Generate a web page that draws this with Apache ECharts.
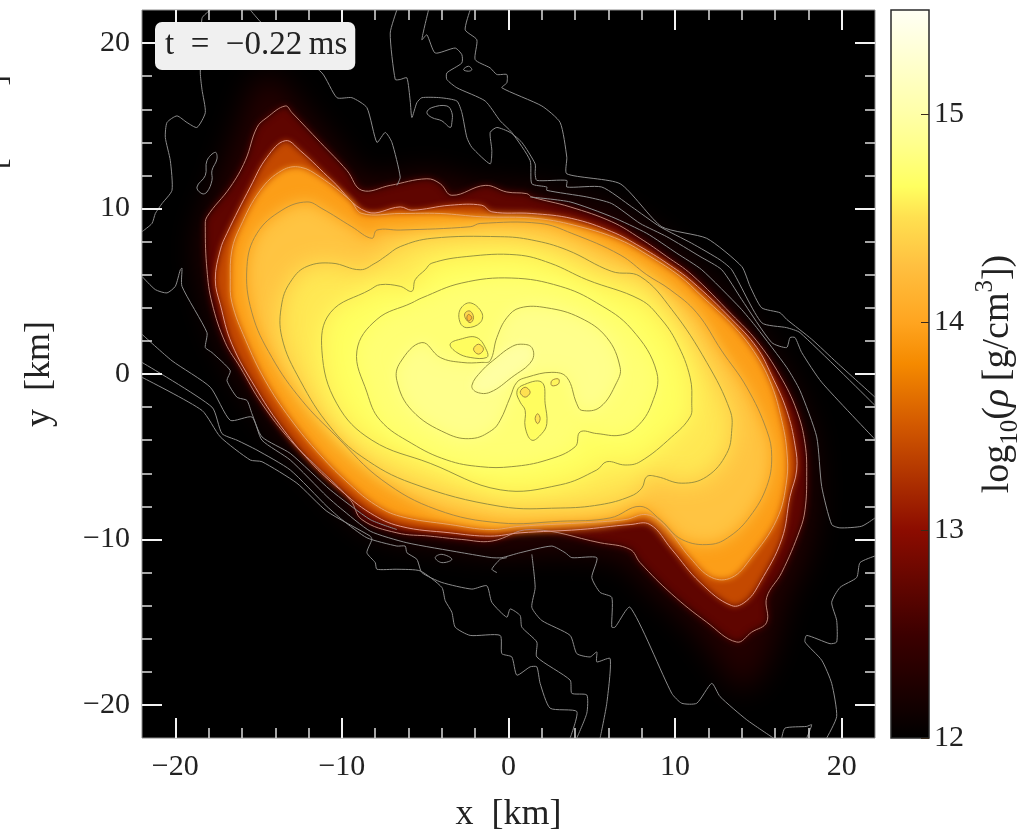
<!DOCTYPE html>
<html><head><meta charset="utf-8">
<style>html,body{margin:0;padding:0;background:#fff}#c{width:1017px;height:834px}</style>
<script src="https://cdn.jsdelivr.net/npm/echarts@6/dist/echarts.min.js"></script>
</head><body><div id="c"></div>
<script>
const xMajor=[-20,-10,0,10,20];
const yMajor=[-20,-10,0,10,20];
const minorTicks=[-18,-16,-14,-12,-8,-6,-4,-2,2,4,6,8,12,14,16,18];
const barTicks=[12,13,14,15];
const cmapLevels=[12,12.5,13,13.5,13.8,14,14.27,14.5,14.65,14.85,15,15.5];
const cmapColors=['#000000','#3c0000','#8c0c00','#d25800','#f58a00','#ffa520','#ffc040','#ffe050','#ffff60','#ffff8c','#ffffa8','#fffff5'];

const glow=[[-18.7,8.1],[-17.2,12.3],[-16,15.6],[-15.1,17.8],[-14,17.9],[-12.5,16.2],[-10.4,13.8],[-8.6,11.8],[-4.7,12.2],[-2.3,11.5],[1.3,11.2],[3.7,10.7],[6.7,9.8],[10.3,7.2],[13.9,3.6],[16.6,-0.1],[18.2,-4],[18.4,-8.2],[17.8,-11.2],[16.6,-13.7],[16,-16.1],[15.1,-18.2],[13.9,-19.1],[12.7,-17.6],[10.9,-15.2],[8.5,-13],[6.7,-11.2],[3.1,-10.8],[-0.5,-10.9],[-4.7,-10.3],[-8.3,-9.4],[-11.3,-6.4],[-13.7,-3.7],[-16.1,-0.4],[-17.6,2.7],[-18.4,5.7]];
const contourA=[[-18.2,8.9],[-18.1,9.5],[-16.7,11.3],[-15.8,12.9],[-15.1,14.9],[-14.5,15.5],[-13.4,16.2],[-13,15.8],[-11.3,14],[-9.7,12.3],[-8.8,11.1],[-7.1,11.4],[-4.9,11.8],[-4.1,11.5],[-3.4,10.8],[-1.4,11.4],[-0.1,11],[1.1,10.9],[1.4,10.7],[3.7,10.1],[6.2,9.2],[7.9,8.2],[9.5,7.1],[11,6],[13.4,3.6],[14.9,2],[16.3,-0.1],[17.3,-2.2],[17.8,-4.2],[17.9,-6.2],[17.8,-8.2],[17.5,-9.4],[16.4,-12],[15.5,-13.5],[15.5,-15],[14.6,-15.6],[13.7,-16.2],[11.9,-15],[9.8,-13.3],[7.9,-11.4],[7.3,-10.6],[5.5,-10.2],[1.3,-9.4],[-1,-10.1],[-2.8,-10],[-4.7,-9.8],[-6.7,-9.6],[-8.8,-8.8],[-9.5,-7.6],[-11.5,-5.6],[-13.1,-4],[-14.8,-1.8],[-16.1,0.4],[-17,1.9],[-17.8,4.3],[-18.1,6.3]];
const contourB=[[-17.6,5.7],[-17.3,7.5],[-16.9,8.5],[-15.5,11.3],[-14.5,13.1],[-13.4,14.1],[-12.5,13.5],[-10.6,11.7],[-8.5,9.8],[-6.5,10.1],[-5.8,9.9],[-3.5,10.2],[-1.6,10.2],[-1,9.8],[1.4,9.7],[3.8,9.4],[6.2,8.6],[7.9,7.7],[9.5,6.7],[11,5.6],[13.4,3.3],[14.9,1.6],[15.8,-0.1],[16.7,-2.2],[17.2,-4.3],[17.3,-5.8],[16.9,-7.4],[16.4,-10],[15.1,-12.6],[14.3,-13.7],[13.4,-14],[11.5,-12.6],[9.8,-10.6],[8.5,-9.1],[7.3,-9.1],[4.3,-9.4],[0.7,-9.6],[-1.1,-9.8],[-3.5,-9.6],[-6.5,-9.2],[-8.3,-8.4],[-10.1,-7],[-11.9,-5.3],[-13.7,-3.1],[-15.2,-0.8],[-16.6,1.8],[-17.3,4.2]];
const contourC=[[-16.7,5.7],[-16.6,7.5],[-16.1,8.9],[-14.9,11.1],[-13.6,12.3],[-12.5,12.5],[-11.3,11.9],[-9.5,10.5],[-8.8,9.7],[-6.5,9.7],[-4.1,9.7],[-1.6,9.5],[1.7,9.4],[4.3,8.9],[6.7,8.1],[8.5,7.1],[10.3,5.9],[11.5,4.8],[13.6,2.8],[14.9,1.1],[15.8,-0.7],[16.4,-2.8],[16.7,-4.6],[16.7,-6.4],[16.1,-8.8],[14.5,-11.2],[13.4,-12.3],[12.2,-12.3],[10.9,-11.1],[9.4,-9.2],[8.3,-8.5],[7,-8.8],[4.3,-9],[0.7,-9.2],[-1.1,-9.4],[-3.5,-9.1],[-6.5,-8.6],[-8,-7.9],[-9.5,-6.7],[-11.3,-4.9],[-13.1,-2.7],[-14.6,-0.4],[-15.8,2.1],[-16.6,4.3]];
const contourD=[[-15.7,6.5],[-15.1,8.5],[-13.6,9.9],[-12.1,10.4],[-11.2,10],[-9.4,8.9],[-8.2,8.2],[-7.9,8.7],[-6.5,8.7],[-2.3,8.9],[-1.7,9.1],[1.9,9.1],[3.8,8.5],[6.7,7.2],[8.3,6],[9.7,5.1],[11.3,3.7],[12.8,1.4],[14.3,-0.8],[15.5,-3.4],[15.8,-5],[15.5,-6.8],[14.5,-8.6],[13.3,-9.8],[12.1,-10.3],[10.4,-10],[9.1,-8.8],[7.9,-8],[6.1,-8.7],[3.1,-8.9],[-0.5,-9],[-4.3,-8.2],[-7.6,-6.4],[-10.3,-3.8],[-12.4,-1.6],[-14.2,1],[-15.4,3.7]];
const contourE=[[-13.6,4.3],[-13,5.7],[-12.1,6.5],[-10.6,6.7],[-8.9,6.3],[-8,6.7],[-7.4,7.1],[-6.5,7.7],[-4.6,8.2],[-0.5,8.3],[1.4,8.1],[3.5,7.5],[6.2,6.2],[7.9,5.9],[9.8,3.9],[11.9,0.7],[13.3,-2.2],[13.4,-3.4],[13.1,-4.8],[11.9,-6.2],[10.4,-6.6],[8.9,-6.2],[8.3,-6.2],[8,-6.9],[7.3,-7.4],[5.5,-7.9],[3.1,-8.1],[-0.5,-8],[-5.8,-6.6],[-8.8,-5],[-10.7,-3.2],[-12.5,-0.4],[-13.6,2.2]];
const contourF=[[-5,6.3],[-4.6,6.7],[-2.5,7.1],[0.5,7.2],[2.5,6.7],[4.7,5.7],[7.9,4.5],[9.1,3.4],[10.1,1.9],[10.9,-0.2],[11,-1.8],[10.9,-2.6],[9.8,-3.8],[7.9,-5.3],[7,-5.5],[5.9,-5.3],[5.3,-5.8],[3.1,-6.7],[-0.5,-7],[-4.7,-5.4],[-8.2,-4],[-10.3,-1.8],[-11.2,1.4],[-10.7,3.7],[-8.3,5.1],[-7.7,5.4],[-6.5,5.3],[-5.8,5],[-5.6,5.7]];
const contourG=[[-7.9,3.3],[-5.8,4.3],[-5.2,4.6],[-2.8,5.5],[0.2,5.8],[3.1,5.3],[5.3,4.3],[7.4,2.7],[8.9,0.1],[8.6,-1.8],[7.7,-3.2],[6.7,-3.7],[5.3,-3.6],[4.3,-3.5],[4,-4.4],[2.3,-5.2],[0.2,-5.6],[-1.7,-5.6],[-3.7,-5.2],[-5.8,-4.2],[-7.7,-2.8],[-8.5,-1.1],[-9.1,1.4]];
const contourH=[[-5.2,1.9],[-6.5,0.7],[-6.7,-0.4],[-5.8,-2.2],[-3.7,-3.6],[-2.2,-3.9],[-1,-3.4],[-0.5,-2.8],[0.1,-1.4],[0.5,-0.5],[1.1,-0.2],[2.6,0.1],[3.5,-0.2],[4.1,-1.8],[4.4,-2.2],[5.5,-2],[6.5,-0.5],[6.7,0.4],[5.9,2.2],[4.3,3.4],[2.3,4],[0.7,4],[-0.1,3.4],[-0.7,2.2],[-1.1,0.8],[-1.6,0.7],[-2.8,0.7],[-4.1,1]];
const centralBar=[[0.7,1.8],[1.4,1.6],[1.4,0.8],[0.2,-0.2],[-1.1,-1.1],[-1.9,-1.1],[-2.2,-0.7],[-1.6,0.2],[-0.7,1],[0.1,1.6]];
const blob1=[[-2.3,4.3],[-1.6,3.7],[-1.7,3.1],[-2.5,2.8],[-2.9,3.1],[-2.9,3.9]];
const blob1Inner=[[-2.3,3.8],[-2.1,3.4],[-2.3,3.1],[-2.6,3.4],[-2.6,3.7]];
const blob1Core=[[-2.4,3.6],[-2.2,3.4],[-2.4,3.2],[-2.5,3.4]];
const blob2=[[-3.5,1.8],[-2.9,2.1],[-1.9,2.2],[-1.3,1.4],[-1.3,1],[-2.3,1],[-3.1,1.3]];
const blob2Inner=[[-1.8,1.8],[-1.5,1.5],[-1.8,1.2],[-2.1,1.5]];
const blob3=[[0.5,-1.1],[0.8,-0.7],[2,-0.5],[2.2,-1.8],[2.3,-3],[2,-3.6],[1.4,-4],[1,-3.2],[1,-2.2],[0.7,-1.7]];
const blob3Inner=[[1,-0.8],[1.3,-1.1],[1,-1.4],[0.7,-1.1]];
const blob3Dot=[[1.75,-2.4],[1.9,-2.7],[1.75,-3],[1.6,-2.7]];
const blob4=[[2.6,-0.4],[3,-0.3],[3,-0.6],[2.6,-0.7]];

const lineO1=[[-17.9,22],[-18.4,21.5],[-18.5,18.2],[-18.4,17.2],[-18.2,15.8],[-18.7,14.9],[-19.3,15.2],[-19.9,15.6],[-20.5,15.2],[-20.6,14.3],[-20.3,12.9],[-20.2,11.1],[-20.8,10.3],[-21.2,9.7],[-21.4,9.1],[-22,8.6]];
const lineO2=[[-15.5,22],[-14.8,21.2],[-11.2,18.2],[-10.3,16.7],[-9.4,16.7],[-8.5,16.1],[-7.9,14],[-7.4,14.6],[-7,14],[-6.5,11.9],[-6.7,11.4]];
const loopEight=[[-17.6,13.4],[-17.5,13],[-17.8,12.3],[-17.8,11.7],[-18.1,11],[-18.4,10.9],[-18.7,11.3],[-18.2,12],[-18.1,12.9]];
const lineL2=[[-6.7,22],[-7.1,20.6],[-6.8,17.8],[-6.5,17.8],[-6.1,17.9],[-5.9,16.5],[-5.8,15.5],[-5.5,16.4],[-5.2,16.7],[-4.1,16.7],[-3.1,16.5],[-2.8,15.8],[-2.5,14.3],[-2.2,13.7],[-1.1,12.7],[-1,13.5],[-1.1,14.6],[-0.7,14.9],[0.1,14.6],[0.8,14],[1.6,12.7],[1.6,12.1],[1.7,11.7],[3.5,11.7],[3.5,11.3],[5.6,11.3],[7.4,10.1],[9.1,8.9],[11,7.9],[12.7,6.9],[13.4,6.3],[15.2,3.1],[16.7,2.8],[17.5,2.5],[22,-1.9]];
const lineL1=[[-2.3,22],[-2.6,20.8],[-1.9,20.2],[-2,19],[-1.1,18.5],[-0.7,18.1],[-0.1,18.1],[-0.1,17.6],[-0.4,17.3],[2,16.2],[3.1,15.2],[3.5,13.1],[3.5,12.1],[6.7,11.5],[9.2,8.9],[11.9,8.2],[14,6.5],[14.5,5.3],[15.2,4],[16.3,3.7],[16.7,3.3],[18.2,2.1],[19.7,0.7],[22,-1.4]];
const lineL3=[[-4.8,22],[-5.2,20.2],[-4.9,20.5],[-4.4,19.4],[-3.2,19.7],[-2.8,19.3],[-2.8,18.8],[-3.7,18.2],[-3.7,17.8],[-3.1,17.3],[-1.4,16.5],[-0.5,15.3],[0.2,14.6],[1.3,12.9],[1.4,11.5],[2.3,11.3],[2.3,11.1],[4.7,10.7],[6.2,10.3],[7.9,9.1],[9.5,8.3],[11.5,7.1],[12.8,6.3],[14,4.5],[15.8,1.9],[16.7,1.6],[16.9,2.2],[17.2,2.2],[17.6,1.3],[18.8,-0.5],[22,-3.95]];
const lineL4=[[1.3,10.7],[3.7,10.4],[6.2,9.5],[8.3,8.5],[10.1,7.3],[11.6,6.3],[13.9,4],[14.9,2.8],[16.7,0.4],[17.5,-1],[18.5,-3.8],[18.8,-6.8],[19.4,-9.1],[19.9,-9.3],[21.2,-9.2],[22,-8.7]];
const lineP0=[[-22,5.9],[-21.2,5.1],[-20.5,4.9],[-20,5.3],[-19.7,6.3],[-19.6,6.4],[-19.6,5.3],[-18.1,2.5],[-18.2,1.6],[-17.8,1.3],[-16.7,0.2],[-16.9,-0.4],[-16.3,-1.4],[-15.7,-1.6],[-15.4,-2.4],[-14.8,-3.8],[-13.1,-4.8],[-10.7,-7],[-8.3,-8.8],[-6.7,-9.4]];
const lineLA=[[-22,2.4],[-20.2,0.8],[-17.9,-0.8],[-16.7,-2.8],[-15.4,-2.6],[-14.8,-4],[-13.1,-5.2],[-10.9,-7.4],[-10.1,-8.1],[-8.3,-9.5],[-6.1,-10.2],[-2.8,-10.8],[-1,-11.1],[-0.4,-11.1],[0.7,-10.8],[2.6,-10.4],[3.4,-10.8],[3.8,-11.1],[5.3,-11.1],[5,-12.3],[5.5,-13.2],[6.2,-13.5],[6.2,-15.3],[6.4,-15.3],[7.3,-14.1],[9.8,-19.3],[10.4,-19.9],[11.3,-19.9],[12.2,-18.7],[12.7,-19.5],[14.3,-20.9],[15.9,-22]];
const lineLB=[[-22,0.7],[-17.8,-2],[-17.2,-3.6],[-16.3,-4],[-15.1,-4.6],[-13.1,-5.8],[-10.9,-8],[-10,-8.8],[-8.5,-9.9],[-6.7,-10.4],[-6.2,-10.4],[-6.1,-10.8],[-5.5,-11.2],[-5.2,-12],[-4,-12.6],[-2.2,-13],[-1.3,-12.8],[-1,-13.8],[-0.1,-14.7],[0.1,-14.2],[0.7,-14.6],[0.8,-15.3],[1.7,-16.2],[1.7,-17.1],[3.7,-18.5],[3.8,-19.3],[4.7,-19.4],[4.7,-20.5],[4.1,-22]];
const lineLC=[[-22,-0.2],[-18.4,-2.2],[-17.3,-3.8],[-15.5,-5.2],[-14.8,-5.3],[-12.7,-6.6],[-10.9,-8.3],[-8.3,-9.8],[-8.2,-10],[-8.5,-10.8],[-8,-11.4],[-7.9,-11.8],[-6.7,-11.8],[-5.3,-11.9],[-4,-12.9],[-3.8,-13.7],[-3.4,-14.4],[-3.2,-15.3],[-2.3,-15.8],[-0.5,-15.8],[-0.4,-16.9],[0.2,-17.1],[0.5,-18.2],[1.3,-17.7],[1.7,-17.7],[1.9,-18.7],[2.5,-20.2],[4.1,-20.4],[3.7,-22]];
const lineM2=[[1.4,-10.9],[1.6,-12.9],[1.4,-14.1],[2,-14.9],[3.7,-15.8],[4.1,-16.9],[4.9,-17.1],[5.3,-16.8],[5.3,-17.4],[6.1,-17.2],[5.9,-19.9],[5.5,-22]];
const lineHook=[[-0.7,-12],[-1,-11.8],[-0.5,-11.2],[-0.1,-11.1]];
const loopLow=[[-4.4,-11.1],[-4,-10.9],[-3.4,-11.2],[-4,-11.4]];
const loopTop=[[-2.7,18.4],[-2.4,18.6],[-2.2,18.4],[-2.4,18.3]];
const loopUpper=[[-4.9,15.8],[-4.6,16.1],[-3.7,16.2],[-3.4,15.8],[-3.4,15.2],[-3.5,14.9],[-4,15.3],[-4.6,15.5]];
const lineM5=[[16.4,-22],[16.6,-21.4],[17.9,-21.3],[18.2,-21.2],[17.9,-22]];
const lineM6=[[22,-11],[21.1,-11.4],[20.9,-12.3],[19.9,-12.9],[19.4,-13.8],[19.7,-14.9],[19.7,-16.2],[19.3,-16.3],[17.9,-15.8],[17.8,-16.2],[18.8,-17.3],[19.4,-18.7],[19.7,-20.7],[19.1,-22]];

function hex(c){return [1,3,5].map(i=>parseInt(c.substr(i,2),16));}
function cmap(v){
  for(let i=1;i<cmapLevels.length;i++){
    if(v<=cmapLevels[i]){
      const t=(v-cmapLevels[i-1])/(cmapLevels[i]-cmapLevels[i-1]);
      const a=hex(cmapColors[i-1]),b=hex(cmapColors[i]);
      return 'rgb('+a.map((x,k)=>Math.round(x+(b[k]-x)*t)).join(',')+')';
    }
  }
  return cmapColors[cmapColors.length-1];
}
const fills=[
 {pts:glow,level:12.3,blur:30},
 {pts:contourA,level:12.72,blur:7},
 {pts:contourB,level:13.4,blur:6},
 {pts:contourC,level:13.95,blur:6},
 {pts:contourD,level:14.3,blur:16},
 {pts:contourE,level:14.54,blur:24},
 {pts:contourF,level:14.65,blur:24},
 {pts:contourG,level:14.74,blur:20},
 {pts:contourH,level:14.85,blur:16},
 {pts:centralBar,level:14.97,blur:8},
 {pts:blob1,level:14.62,blur:1},
 {pts:blob1Inner,level:14.45,blur:1},
 {pts:blob1Core,level:14.2,blur:0},
 {pts:blob2,level:14.64,blur:2},
 {pts:blob2Inner,level:14.52,blur:1},
 {pts:blob3,level:14.64,blur:2},
 {pts:blob3Inner,level:14.5,blur:1},
 {pts:blob3Dot,level:14.52,blur:0},
 {pts:blob4,level:14.6,blur:0}
];
const OUT='#8b8b8b',OLIVE='#97943f';
const closedLines=[
 [contourA,'#b88276'],[contourB,'#e2988a'],[contourC,'#e9a468'],[contourD,'#a88a45'],
 [contourE,'#9a9040'],[contourF,OLIVE],[contourG,OLIVE],[contourH,OLIVE],[centralBar,OLIVE],
 [blob1,OLIVE],[blob1Inner,'#a48a3c'],[blob1Core,'#a07c30'],[blob2,OLIVE],[blob2Inner,'#a48a3c'],
 [blob3,OLIVE],[blob3Inner,'#a48a3c'],[blob3Dot,'#a48a3c'],[blob4,'#a48a3c'],
 [loopEight,OUT],[loopLow,OUT],[loopTop,OUT],[loopUpper,OUT]
];
const openLines=[lineO1,lineO2,lineL1,lineL2,lineL3,lineL4,lineP0,lineLA,lineLB,lineLC,lineM2,lineHook,lineM5,lineM6];
const FONT='"Liberation Serif",serif';
const fmt=v=>v<0?'\u2212'+Math.abs(v):String(v);
const frameRect={left:142,top:10,width:733,height:728,outerBoundsMode:'none',containLabel:false};
const NOLINE={show:false,onZero:false};
function majorX(pos,labels){return {type:'value',gridIndex:0,position:pos,min:-22,max:22,
  axisLine:NOLINE,splitLine:{show:false},
  axisTick:{show:true,inside:true,length:20,customValues:xMajor,lineStyle:{color:'#f2f2f2',width:2}},
  axisLabel:labels?{show:true,customValues:xMajor,formatter:fmt,margin:14,color:'#222',fontFamily:FONT,fontSize:30}:{show:false},
  name:labels?'x\u2002[km]':'',nameLocation:'middle',nameGap:59,nameTextStyle:{color:'#222',fontFamily:FONT,fontSize:36},z:10};}
function majorY(pos,labels){return {type:'value',gridIndex:0,position:pos,min:-22,max:22,
  axisLine:NOLINE,splitLine:{show:false},
  axisTick:{show:true,inside:true,length:20,customValues:yMajor,lineStyle:{color:'#f2f2f2',width:2}},
  axisLabel:labels?{show:true,customValues:yMajor,formatter:fmt,margin:12,color:'#222',fontFamily:FONT,fontSize:30}:{show:false},
  name:labels?'y\u2002[km]':'',nameLocation:'middle',nameGap:84,nameRotate:90,nameTextStyle:{color:'#222',fontFamily:FONT,fontSize:36},z:10};}
function minorAxis(pos){return {type:'value',gridIndex:1,position:pos,min:-22,max:22,
  axisLine:NOLINE,splitLine:{show:false},axisLabel:{show:false},
  axisTick:{show:true,inside:true,length:10,customValues:minorTicks,lineStyle:{color:'#dddddd',width:1.5}},z:10};}

const chart=echarts.init(document.getElementById('c'),null,{renderer:'canvas'});
const FAR=4000;
chart.setOption({
  animation:false,backgroundColor:'#ffffff',
  title:{text:'t\u2002=\u2002\u22120.22\u2009ms',left:155,top:22,padding:[7,8,8,10],backgroundColor:'#f0f0f0',borderRadius:7,
    textStyle:{fontFamily:FONT,fontSize:33,fontWeight:'normal',color:'#222',lineHeight:33},z:20},
  grid:[
    Object.assign({show:true,backgroundColor:'#000',borderColor:'#8a8a8a',borderWidth:1},frameRect),
    Object.assign({show:false},frameRect),
    {show:false,left:891,top:10,width:38,height:728,outerBoundsMode:'none',containLabel:false}
  ],
  xAxis:[majorX('bottom',true),majorX('top',false),minorAxis('bottom'),minorAxis('top'),
    {type:'value',gridIndex:2,min:0,max:1,show:false}],
  yAxis:[majorY('left',true),majorY('right',false),minorAxis('left'),minorAxis('right'),
    {type:'value',gridIndex:2,position:'right',min:12,max:15.5,
     axisLine:NOLINE,splitLine:{show:false},
     axisTick:{show:true,inside:true,length:8,customValues:barTicks,lineStyle:{color:'#3a2a1a',width:1}},
     axisLabel:{show:true,customValues:barTicks,margin:5,color:'#222',fontFamily:FONT,fontSize:30},
     name:'{a|log}{s|10}{a|(}{i|\u03c1}{a|\u2009[g/cm}{u|3}{a|])}',nameLocation:'middle',nameGap:44,nameRotate:90,
     nameTextStyle:{color:'#222',fontFamily:FONT,fontSize:38,rich:{
       a:{fontFamily:FONT,fontSize:38,color:'#222'},
       i:{fontFamily:FONT,fontSize:38,fontStyle:'italic',color:'#222'},
       s:{fontFamily:FONT,fontSize:25,color:'#222',verticalAlign:'bottom',lineHeight:50},
       u:{fontFamily:FONT,fontSize:25,color:'#222',verticalAlign:'top',lineHeight:50}}},z:10}],
  graphic:[
    {type:'text',x:14,y:75,rotation:Math.PI/2,style:{text:']',fontFamily:FONT,fontSize:32,fill:'#222',textAlign:'right',textVerticalAlign:'bottom'}},
    {type:'text',x:14,y:169,rotation:Math.PI/2,style:{text:'[',fontFamily:FONT,fontSize:32,fill:'#222',textAlign:'left',textVerticalAlign:'bottom'}}
  ],
  series:[
    {type:'custom',name:'density',coordinateSystem:'cartesian2d',xAxisIndex:0,yAxisIndex:0,clip:true,z:2,silent:true,
     data:fills.map(f=>[f.pts[0][0],f.pts[0][1]]),
     renderItem:(p,api)=>{const f=fills[p.dataIndex];const c=cmap(f.level);
       if(!f.blur) return {type:'polygon',shape:{points:f.pts.map(q=>api.coord(q)),smooth:0.3},style:{fill:c}};
       return {type:'polygon',x:-FAR,shape:{points:f.pts.map(q=>api.coord(q)),smooth:0.3},
         style:{fill:c,shadowBlur:f.blur,shadowColor:c,shadowOffsetX:FAR}};}},
    {type:'custom',name:'closed contours',coordinateSystem:'cartesian2d',xAxisIndex:0,yAxisIndex:0,clip:true,z:3,silent:true,
     data:closedLines.map(l=>[l[0][0][0],l[0][0][1]]),
     renderItem:(p,api)=>{const l=closedLines[p.dataIndex];
       return {type:'polygon',shape:{points:l[0].map(q=>api.coord(q)),smooth:0.4},
         style:{fill:null,stroke:l[1],lineWidth:1}};}},
    {type:'custom',name:'open contours',coordinateSystem:'cartesian2d',xAxisIndex:0,yAxisIndex:0,clip:true,z:3,silent:true,
     data:openLines.map(l=>[l[0][0],l[0][1]]),
     renderItem:(p,api)=>({type:'polyline',shape:{points:openLines[p.dataIndex].map(q=>api.coord(q)),smooth:0.2},
         style:{fill:null,stroke:OUT,lineWidth:1}})},
    {type:'custom',name:'colour bar',coordinateSystem:'cartesian2d',xAxisIndex:4,yAxisIndex:4,clip:false,z:2,silent:true,
     data:[[0,12]],
     renderItem:(p,api)=>{const a=api.coord([0,15.5]),b=api.coord([1,12]);
       return {type:'rect',shape:{x:a[0],y:a[1],width:b[0]-a[0],height:b[1]-a[1]},
         style:{stroke:'#2a2a2a',lineWidth:1.5,fill:new echarts.graphic.LinearGradient(0,1,0,0,
           cmapLevels.map((l,i)=>({offset:(l-12)/3.5,color:cmapColors[i]})))}};}}
  ]
});
</script></body></html>
